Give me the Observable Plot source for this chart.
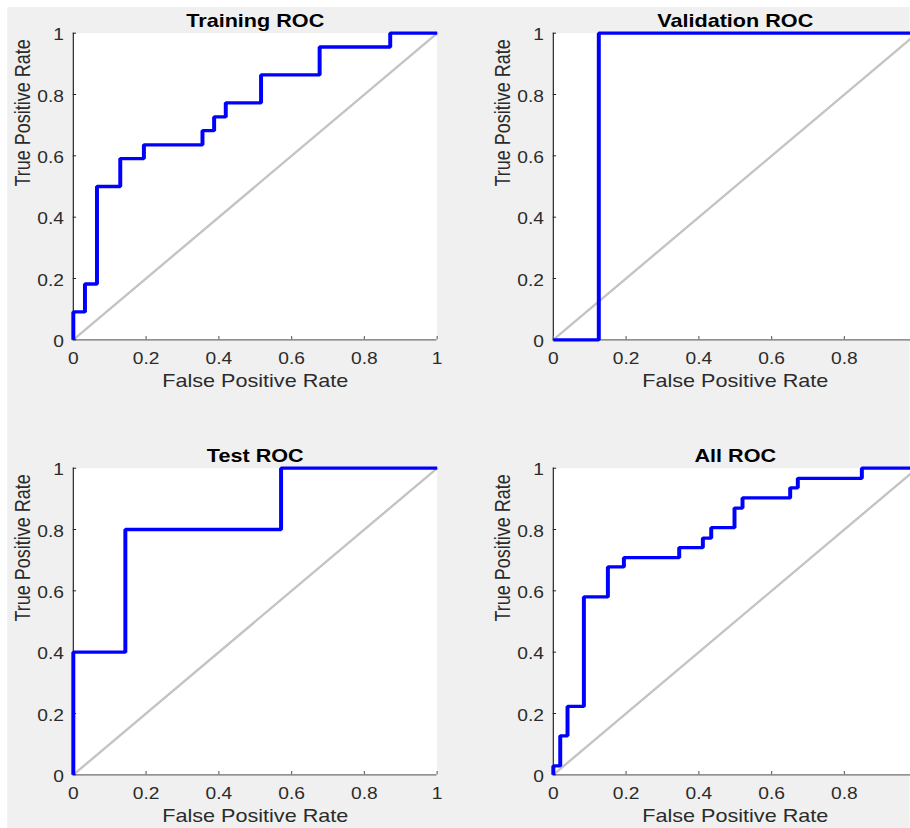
<!DOCTYPE html>
<html><head><meta charset="utf-8">
<script src="https://cdn.jsdelivr.net/npm/d3@7"></script>
<script src="https://cdn.jsdelivr.net/npm/@observablehq/plot@0.6"></script>
<style>
html,body{margin:0;padding:0;background:#fff;overflow:hidden;width:910px;height:828px;}
#wrap{position:absolute;left:0;top:0;width:758.33px;height:828px;transform:scaleX(1.2);transform-origin:0 0;}
#bg{position:absolute;left:5.83px;top:7px;right:0;bottom:0;background:#f0f0f0;}
.panel{position:absolute;}
</style></head><body><div id="wrap"><div id="bg"></div></div>
<script>
// ---- data ----
const titles = ["Training ROC", "Validation ROC", "Test ROC", "All ROC"];
const xLabel = "False Positive Rate";
const yLabel = "True Positive Rate";
const xTicks = [0, 0.2, 0.4, 0.6, 0.8, 1];
const yTicks = [0, 0.2, 0.4, 0.6, 0.8, 1];
const tickLabels = ["0", "0.2", "0.4", "0.6", "0.8", "1"];
// right-hand panels are cropped by the picture edge: their "1" x label is not shown
const croppedXLabelTicks = [0, 0.2, 0.4, 0.6, 0.8];
const chanceLine = [0, 1];

const trainingFPR = [0, 0.032, 0.065, 0.129, 0.194, 0.355, 0.387, 0.419, 0.516, 0.677, 0.871, 1];
const trainingTPR = [0, 0.091, 0.182, 0.500, 0.591, 0.636, 0.682, 0.727, 0.773, 0.864, 0.955, 1];

const validationFPR = [0, 0.125, 1];
const validationTPR = [0, 0, 1];

const testFPR = [0, 0.143, 0.571, 1];
const testTPR = [0, 0.4, 0.8, 1];

const allFPR = [0, 0.019, 0.039, 0.084, 0.150, 0.194, 0.346, 0.411, 0.434, 0.498, 0.520, 0.651, 0.672, 0.848, 1];
const allTPR = [0, 0.029, 0.127, 0.223, 0.580, 0.678, 0.708, 0.741, 0.772, 0.806, 0.870, 0.903, 0.936, 0.967, 1];

// ---- layout (native units; the whole figure is stretched 1.2x horizontally) ----
const ML = 60.6, PW = 303.2, MR = 40, MT = 32.7, PH = 306.6, MB = 60.7;
const fmtX = d => tickLabels[xTicks.indexOf(d)];
const fmtY = d => tickLabels[yTicks.indexOf(d)];

function panel(title, fpr, tpr, labelTicks) {
  const pts = fpr.map((x, i) => ({x, y: tpr[i]}));
  return Plot.plot({
    width: ML + PW + MR, height: MT + PH + MB,
    marginLeft: ML, marginRight: MR, marginTop: MT, marginBottom: MB,
    x: {domain: [0, 1]}, y: {domain: [0, 1]},
    style: {background: "transparent", fontFamily: "'Liberation Sans', Arial, sans-serif", fontSize: "16px", color: "#2b2b2b", maxWidth: "none", overflow: "visible"},
    marks: [
      Plot.frame({fill: "white", stroke: "none"}),
      Plot.line(chanceLine, {x: d => d, y: d => d, stroke: "#c4c4c4", strokeWidth: 2.2}),
      Plot.ruleX([0], {stroke: "#262626", strokeWidth: 1}),
      Plot.ruleY([0], {stroke: "#6e6e6e", strokeWidth: 1.3}),
      Plot.ruleX(xTicks, {x: d => d, insetTop: PH - 3.2, stroke: "#6e6e6e"}),
      Plot.ruleY(yTicks, {y: d => d, insetRight: PW - 2.8, stroke: "#262626"}),
      Plot.axisX({ticks: labelTicks, tickFormat: fmtX, tickSize: 0, tickPadding: 12.7, label: null}),
      Plot.axisY({ticks: yTicks, tickFormat: fmtY, tickSize: 0, tickPadding: 7.8, label: null, dy: 2}),
      Plot.line(pts, {x: "x", y: "y", curve: "step-before", stroke: "#0000ff", strokeWidth: 3.3, strokeLinejoin: "miter", strokeLinecap: "butt"}),
      Plot.text([title], {text: d => d, frameAnchor: "top", lineAnchor: "bottom", dy: -6, fontWeight: "bold", fontSize: 18, fill: "#000"}),
      Plot.text([xLabel], {text: d => d, frameAnchor: "bottom", lineAnchor: "top", dy: 34.7, fontSize: 18}),
      Plot.text([yLabel], {text: d => d, frameAnchor: "left", rotate: -90, lineAnchor: "bottom", dx: 24.2 - ML, fontSize: 18})
    ]
  });
}

const wrap = document.getElementById("wrap");
const specs = [
  [titles[0], trainingFPR, trainingTPR, xTicks, 0, 0],
  [titles[1], validationFPR, validationTPR, croppedXLabelTicks, 400, 0],
  [titles[2], testFPR, testTPR, xTicks, 0, 434.6],
  [titles[3], allFPR, allTPR, croppedXLabelTicks, 400, 434.6]
];
for (const [t, f, tp, lt, left, top] of specs) {
  const div = document.createElement("div");
  div.className = "panel";
  div.style.left = left + "px";
  div.style.top = top + "px";
  div.appendChild(panel(t, f, tp, lt));
  wrap.appendChild(div);
}
</script>
</body></html>
